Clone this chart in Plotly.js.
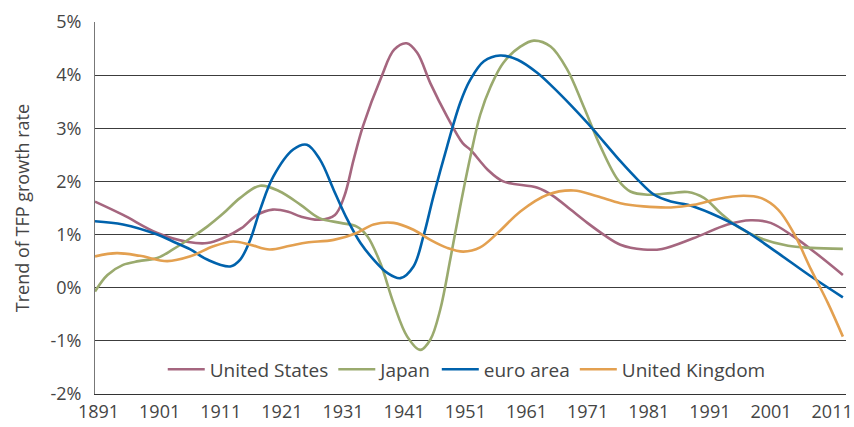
<!DOCTYPE html>
<html>
<head>
<meta charset="utf-8">
<script src="https://cdn.plot.ly/plotly-3.0.1.min.js"></script>
<style>html,body{margin:0;padding:0;background:#fff;}#chart{width:854px;height:427px;}</style>
</head>
<body>
<div id="chart"></div>
<script>
// Values (TFP growth trend, % per year)
const usYears = [1891,1895.5,1901,1906,1909,1911.5,1914.5,1917,1919.5,1922,1924,1927,1929.5,1931,1932.5,1934,1937,1939,1941,1942.7,1944.8,1947.5,1950,1951.2,1952.8,1954,1956.5,1962,1964.6,1967.3,1970,1972.6,1975.3,1979,1982,1987,1992.5,1996.2,1999.4,2003,2007,2011];
const usValues = [1.62,1.37,1.03,0.86,0.84,0.93,1.12,1.37,1.47,1.43,1.34,1.28,1.37,1.72,2.41,3.04,3.98,4.48,4.60,4.42,3.85,3.22,2.72,2.60,2.38,2.22,2.00,1.88,1.72,1.47,1.22,1.00,0.81,0.72,0.73,0.93,1.19,1.27,1.22,0.97,0.62,0.24];

const jpYears = [1891,1893,1895.5,1898,1901,1903.5,1906.3,1909,1911.6,1914.3,1917.5,1920.5,1924,1927,1930.4,1933,1934.7,1936.8,1938.9,1941.1,1943.2,1944.8,1946.4,1948,1949.6,1951.2,1952.8,1954.5,1956.5,1959.3,1961.4,1964.1,1966.8,1969.4,1972.1,1974.9,1976.9,1979.7,1983.4,1986.1,1988.7,1991.4,1994.1,1997.8,2002.2,2005.9,2011];
const jpValues = [-0.07,0.24,0.43,0.50,0.56,0.72,0.93,1.15,1.40,1.69,1.92,1.82,1.56,1.31,1.22,1.15,0.97,0.46,-0.29,-0.92,-1.17,-0.98,-0.41,0.53,1.53,2.45,3.25,3.79,4.23,4.54,4.65,4.54,4.10,3.41,2.66,2.03,1.81,1.75,1.78,1.80,1.69,1.40,1.15,0.93,0.79,0.75,0.73];

const euYears = [1891,1895.5,1901,1903.5,1906.3,1909,1912.7,1914.3,1915.9,1917.5,1919.6,1922.8,1925,1927.1,1929.3,1931.5,1933.6,1935.7,1937.9,1940,1942.1,1943.7,1945.3,1947.5,1949.6,1951.2,1953.4,1956,1958.8,1962,1964.6,1967.3,1970,1972.6,1975.3,1978.1,1980.7,1983.4,1986.1,1989.8,1995.1,2000.6,2005.9,2011];
const euValues = [1.25,1.19,1.00,0.87,0.72,0.53,0.40,0.53,0.90,1.47,2.09,2.60,2.69,2.41,1.84,1.28,0.84,0.53,0.28,0.18,0.40,0.97,1.72,2.66,3.48,3.91,4.26,4.37,4.29,4.04,3.76,3.44,3.10,2.75,2.38,2.03,1.75,1.62,1.56,1.40,1.09,0.65,0.21,-0.18];

const ukYears = [1891,1894.5,1898.2,1902.6,1906.3,1910,1913.2,1915.9,1919,1922.3,1925,1929.3,1933,1935.7,1938.9,1942.1,1944.8,1947.5,1950.1,1952.8,1955.6,1959.3,1963.6,1967.8,1971.6,1975.3,1979,1983.4,1987.1,1990.9,1995.1,1997.8,2000.6,2003.1,2005.9,2008.6,2011];
const ukValues = [0.59,0.65,0.60,0.50,0.59,0.78,0.87,0.81,0.72,0.79,0.85,0.90,1.03,1.19,1.22,1.09,0.90,0.75,0.68,0.76,1.03,1.44,1.75,1.83,1.72,1.59,1.53,1.51,1.56,1.67,1.73,1.69,1.47,1.03,0.34,-0.29,-0.92];

const seriesNames = ['United States','Japan','euro area','United Kingdom'];
const xTickLabels = ['1891','1901','1911','1921','1931','1941','1951','1961','1971','1981','1991','2001','2011'];
const yTickValues = [-2,-1,0,1,2,3,4,5];
const yTickLabels = ['-2%','-1%','0%','1%','2%','3%','4%','5%'];

const colors = ['#A5667F','#9AAA6E','#0062AC','#E3A050'];
const allYears = [usYears, jpYears, euYears, ukYears];
const allValues = [usValues, jpValues, euValues, ukValues];

const traces = seriesNames.map((name, i) => ({
  type: 'scatter', mode: 'lines', name: name,
  x: allYears[i], y: allValues[i],
  line: {color: colors[i], width: 2.6, shape: 'spline', smoothing: 1}
}));

// tick labels are spread slightly inside the data span, as in the reference
const xTickVals = xTickLabels.map((_, i) => 1891.56 + i * 9.81);

const font = {family: '"Open Sans", "Noto Sans", sans-serif', color: '#454545'};

const layout = {
  width: 854, height: 427,
  margin: {l: 95, r: 8, t: 22, b: 33},
  paper_bgcolor: '#fff', plot_bgcolor: '#fff',
  showlegend: true,
  legend: {
    orientation: 'h', x: 0.495, xanchor: 'center', y: 0.066, yanchor: 'middle',
    bgcolor: 'rgba(0,0,0,0)', font: Object.assign({}, font, {size: 19}),
    itemwidth: 37
  },
  xaxis: {
    range: [1891, 2011.5], showgrid: false, zeroline: false,
    showline: true, linecolor: '#333', linewidth: 1,
    tickmode: 'array', tickvals: xTickVals, ticktext: xTickLabels,
    ticks: 'outside', ticklen: 1, tickcolor: 'rgba(0,0,0,0)',
    tickfont: Object.assign({}, font, {size: 18}),
    fixedrange: true
  },
  yaxis: {
    range: [-2, 5], showgrid: true, gridcolor: '#3c3c3c', gridwidth: 1,
    zeroline: false, showline: true, linecolor: '#777', linewidth: 1,
    tickmode: 'array', tickvals: yTickValues, ticktext: yTickLabels,
    ticks: 'outside', ticklen: 9, tickcolor: 'rgba(0,0,0,0)',
    tickfont: Object.assign({}, font, {size: 18}),
    title: {text: 'Trend of TFP growth rate', font: Object.assign({}, font, {size: 18}), standoff: 16},
    fixedrange: true
  }
};

Plotly.newPlot('chart', traces, layout, {displayModeBar: false, staticPlot: true});
</script>
</body>
</html>
